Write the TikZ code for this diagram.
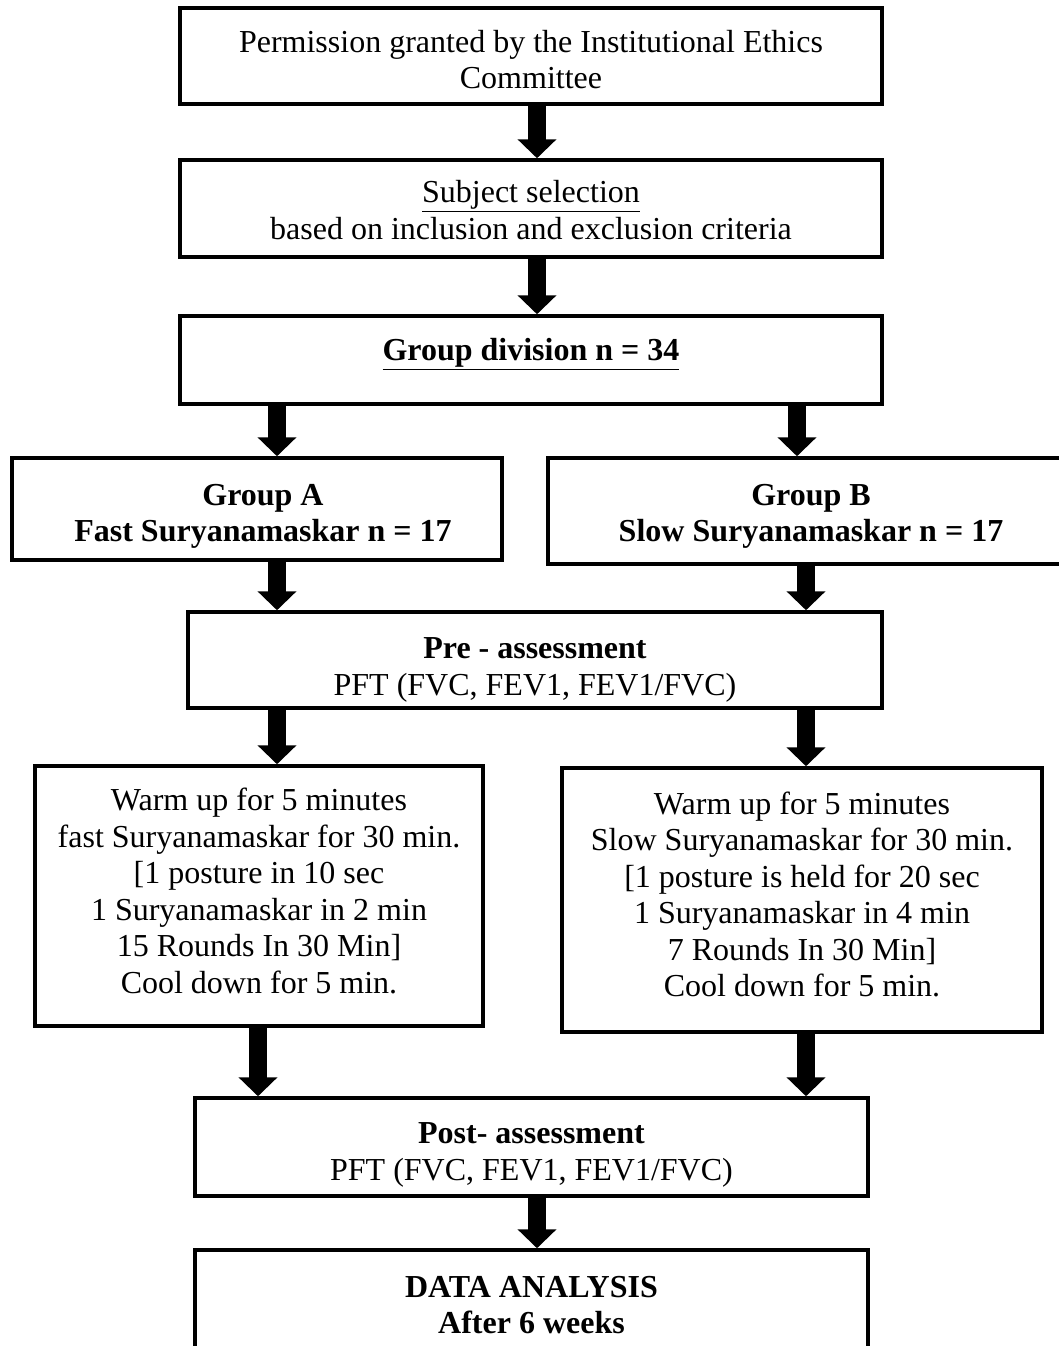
\documentclass[tikz,border=0pt]{standalone}
\usepackage{fontspec}
\setmainfont{Liberation Serif}
\usetikzlibrary{arrows.meta}
\begin{document}
\begin{tikzpicture}[x=1pt,y=-1pt,
  box/.style={draw, line width=3.5pt, inner sep=0pt},
  txt/.style={inner sep=0pt, align=center, font=\fontsize{32}{36.5}\selectfont},
  bigarrow/.style={line width=18pt, -{Triangle[width=38pt,length=19pt]}}]
\useasboundingbox (0,0) rectangle (1058,1346);
% boxes
\node[box, minimum width=702pt, minimum height=96pt] (b1) at (531,56) {};
\node[box, minimum width=702pt, minimum height=97pt] (b2) at (531,208.5) {};
\node[box, minimum width=702pt, minimum height=88pt] (b3) at (531,360) {};
\node[box, minimum width=490pt, minimum height=102pt] (b4) at (257,509) {};
\node[box, minimum width=522pt, minimum height=106pt] (b5) at (809,511) {};
\node[box, minimum width=694pt, minimum height=96pt] (b6) at (535,660) {};
\node[box, minimum width=448pt, minimum height=260pt] (b7) at (259,896) {};
\node[box, minimum width=480pt, minimum height=264pt] (b8) at (802,900) {};
\node[box, minimum width=673pt, minimum height=98pt] (b9) at (531.5,1147) {};
\node[box, minimum width=673pt, minimum height=110pt] (b10) at (531.5,1305) {};
% texts
\node[txt] (t1) at (531,59.5)
  {Permission granted by the Institutional Ethics\\Committee};
\node[txt] (t2) at (531,210)
  {\underline{Subject selection}\\based on inclusion and exclusion criteria};
\node[txt] (t3) at (531,354)
  {\bfseries\underline{Group division n = 34}};
\node[txt] (t4) at (263,516.5)
  {\bfseries Group A\\\bfseries Fast Suryanamaskar n = 17};
\node[txt] (t5) at (811,516.5)
  {\bfseries Group B\\\bfseries Slow Suryanamaskar n = 17};
\node[txt] (t6) at (535,670)
  {\bfseries Pre - assessment\\PFT (FVC, FEV1, FEV1/FVC)};
\node[txt] (t7) at (259,891)
  {Warm up for 5 minutes\\fast Suryanamaskar for 30 min.\\{[}1 posture in 10 sec\\1 Suryanamaskar in 2 min\\15 Rounds In 30 Min{]}\\Cool down for 5 min.};
\node[txt] (t8) at (802,894.5)
  {Warm up for 5 minutes\\Slow Suryanamaskar for 30 min.\\{[}1 posture is held for 20 sec\\1 Suryanamaskar in 4 min\\7 Rounds In 30 Min{]}\\Cool down for 5 min.};
\node[txt] (t9) at (531.5,1155)
  {\bfseries Post- assessment\\PFT (FVC, FEV1, FEV1/FVC)};
\node[txt] (t10) at (531.5,1305)
  {\bfseries DATA ANALYSIS\\\bfseries After 6 weeks};
% arrows
\draw[bigarrow] (537,0 |- b1.south) -- (537,0 |- b2.north);
\draw[bigarrow] (537,0 |- b2.south) -- (537,0 |- b3.north);
\draw[bigarrow] (277,0 |- b3.south) -- (277,0 |- b4.north);
\draw[bigarrow] (797,0 |- b3.south) -- (797,0 |- b5.north);
\draw[bigarrow] (277,0 |- b4.south) -- (277,0 |- b6.north);
\draw[bigarrow] (806,0 |- b5.south) -- (806,0 |- b6.north);
\draw[bigarrow] (277,0 |- b6.south) -- (277,0 |- b7.north);
\draw[bigarrow] (806,0 |- b6.south) -- (806,0 |- b8.north);
\draw[bigarrow] (258,0 |- b7.south) -- (258,0 |- b9.north);
\draw[bigarrow] (806,0 |- b8.south) -- (806,0 |- b9.north);
\draw[bigarrow] (537,0 |- b9.south) -- (537,0 |- b10.north);
\end{tikzpicture}
\end{document}
